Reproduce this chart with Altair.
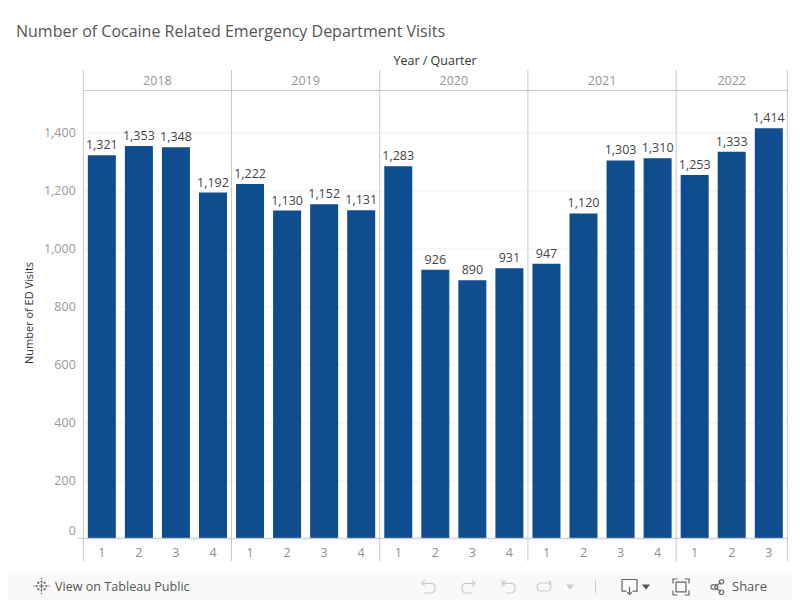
import altair as alt
import pandas as pd

years = [2018]*4 + [2019]*4 + [2020]*4 + [2021]*4 + [2022]*3
quarters = [1,2,3,4, 1,2,3,4, 1,2,3,4, 1,2,3,4, 1,2,3]
visits = [1321,1353,1348,1192, 1222,1130,1152,1131, 1283,926,890,931, 947,1120,1303,1310, 1253,1333,1414]
y_ticks = [0,200,400,600,800,1000,1200,1400]
year_labels = [2018,2019,2020,2021]
last_year_label = [2022]

FONT = "Open Sans"
BAR = "#0F4D8F"
LINE = "#C8C8C8"
W, H = 704, 447.8
LEFT, TOP = 75.3, 82.5
GAP = 4.5

keys = [f"{y}-{q}" for y, q in zip(years, quarters)]
df = pd.DataFrame({"key": keys, "visits": visits})
x_scale = alt.Scale(domain=keys, paddingInner=0.243, paddingOuter=0.1215)
y_scale = alt.Scale(domain=[0, 1544], nice=False, zero=True)
x_axis = alt.Axis(labelExpr="split(datum.label,'-')[1]", labelAngle=0, domain=False, ticks=False,
                  grid=False, labelFont=FONT, labelFontSize=12.5, labelColor="#8F8F8F", labelPadding=8)
y_axis = alt.Axis(values=y_ticks, labelExpr="format(datum.value, ',')", domain=False, ticks=False,
                  grid=True, gridColor="#F0F0F0",
                  labelFont=FONT, labelFontSize=12.5, labelColor="#999999", labelPadding=8,
                  labelFlush=True, labelFlushOffset=-1,
                  titleFont=FONT, titleFontSize=11, titleFontWeight="normal", titleColor="#333333",
                  titleX=-49, titleY=222)

def X(**kw):
    return alt.X("key:N", scale=x_scale, title=None, axis=x_axis, **kw)

def Y():
    return alt.Y("visits:Q", scale=y_scale, title="Number of ED Visits", axis=y_axis)

def vx(px):
    return alt.value(px - 8 - LEFT)

def vy(px):
    return alt.value(px - 8 - TOP)

bars = alt.Chart(df).mark_bar(color=BAR, width=28).encode(x=X(), y=Y())
labels = alt.Chart(df).mark_text(font=FONT, fontSize=12.5, color="#444444", baseline="bottom", dy=-3).encode(
    x=X(), y=Y(), text=alt.Text("visits:Q", format=","))

starts = df[[q == 1 for q in quarters]]
inner = df[[q != 1 for q in quarters]]
seps = alt.Chart(starts).mark_rule(color=LINE, xOffset=-GAP).encode(
    x=X(bandPosition=0), y=vy(70), y2=vy(561))
end_sep = alt.Chart(df.head(1)).mark_rule(color=LINE).encode(x=alt.value(W), y=vy(70), y2=vy(561))
qticks = alt.Chart(inner).mark_rule(color="#EEEEEE", xOffset=-GAP).encode(
    x=X(bandPosition=0), y=vy(538), y2=vy(542))
top_line = alt.Chart(df.head(1)).mark_rule(color=LINE).encode(x=alt.value(0), x2=alt.value(W), y=alt.value(0))
base_line = alt.Chart(df.head(1)).mark_rule(color=LINE).encode(x=alt.value(-5), x2=alt.value(W), y=alt.value(H))

yr = pd.DataFrame({"key": [f"{y}-2" for y in year_labels], "year": year_labels})
yr2 = pd.DataFrame({"key": [f"{y}-2" for y in last_year_label], "year": last_year_label})
ytxt = alt.Chart(yr).mark_text(font=FONT, fontSize=12.5, color="#959595", dx=GAP).encode(
    x=X(bandPosition=1), y=vy(80.5), text="year:N")
ytxt2 = alt.Chart(yr2).mark_text(font=FONT, fontSize=12.5, color="#959595").encode(
    x=X(bandPosition=0.5), y=vy(80.5), text="year:N")

one = pd.DataFrame({"a": [1]})

def txt(s, px, py, size=12, color="#333333", align="center", weight="normal"):
    return alt.Chart(pd.DataFrame({"t": [s]})).mark_text(font=FONT, fontSize=size, color=color, align=align,
                                                        fontWeight=weight).encode(
        x=vx(px), y=vy(py), text="t:N")

def icon(path, px, py, box, color="#777777", filled=False, width=1.2):
    return alt.Chart(one).mark_point(shape=path, size=box*box, filled=filled, opacity=1, strokeWidth=width,
                                     color=color).encode(x=vx(px), y=vy(py))

toolbar = alt.Chart(one).mark_rect(color="#F9F9F9").encode(x=vx(8), x2=vx(800), y=vy(573), y2=vy(600))

logo = ("M-.12 -.55H.12M0 -.7V-.4M-.12 .55H.12M0 .4V.7M-.75 0H-.45M-.6 -.13V.13M.45 0H.75M.6 -.13V.13"
        "M-.3 0H.3M0 -.3V.3M-.55 -.4H-.25M-.4 -.52V-.28M.25 -.4H.55M.4 -.52V-.28"
        "M-.55 .4H-.25M-.4 .28V.52M.25 .4H.55M.4 .28V.52M0 -1V-.85M0 .85V1M-1 0H-.85M.85 0H1")
undo = "M-.85 -.45H.3C1 -.45 1 .75 .3 .75H-.5M-.85 -.45L-.45 -.85M-.85 -.45L-.45 -.1"
redo = "M.85 -.45H-.3C-1 -.45 -1 .75 -.3 .75H.5M.85 -.45L.45 -.85M.85 -.45L.45 -.1"
revert = "M-.75 -.9V-.05M-.75 -.45H.3C1 -.45 1 .75 .3 .75H-.4M-.75 -.45L-.35 -.8M-.75 -.45L-.35 -.1"
refresh = "M.9 -.5H-.4C-1 -.5 -1 .5 -.4 .5H.4C1 .5 1 -.5 .6 -.5M.9 -.5L.6 -.8M.9 -.5L.6 -.2"
tri = "M-1 -.6H1L0 .7Z"
download = "M-.4 .55H-1V-1H1V.55H.4M0 -.05V1M-.3 .7L0 1L.3 .7"
full = ("M-1 -.45V-1H-.45M.45 -1H1V-.45M1 .45V1H.45M-.45 1H-1V.45M-.62 -.62H.62V.62H-.62Z")
share = ("M-.35 0L.5 -.6M-.35 0L.5 .6M-.35 -.25A.3 .3 0 1 0 -.35 .25A.3 .3 0 1 0 -.35 -.25Z"
         "M.6 -1A.3 .3 0 1 0 .6 -.4A.3 .3 0 1 0 .6 -1ZM.6 .4A.3 .3 0 1 0 .6 1A.3 .3 0 1 0 .6 .4Z")

chrome = [
    toolbar,
    icon(logo, 41.5, 586, 16, "#666666"),
    txt("View on Tableau Public", 55, 587, 12.6, "#555555", "left"),
    icon(undo, 428.5, 587, 16, "#CCCCCC"),
    icon(redo, 468.5, 587, 16, "#CCCCCC"),
    icon(revert, 508.5, 587, 16, "#CCCCCC"),
    icon(refresh, 544, 587, 16, "#CCCCCC"),
    icon(tri, 570, 587, 8, "#CCCCCC", True),
    alt.Chart(one).mark_rule(color="#CCCCCC").encode(x=vx(595.5), y=vy(580), y2=vy(593)),
    icon(download, 629.5, 587, 15, "#666666"),
    icon(tri, 646, 587, 8, "#555555", True),
    icon(full, 681, 587, 16, "#666666"),
    icon(share, 717, 587, 15, "#666666"),
    txt("Share", 732, 587, 13, "#555555", "left"),
]

chart = alt.layer(
    bars, labels, seps, end_sep, qticks, top_line, base_line, ytxt, ytxt2,
    txt("Year / Quarter", 435, 61, 12.5, "#333333"),
    *chrome,
).properties(
    width=W, height=H,
    title=alt.TitleParams("Number of Cocaine Related Emergency Department Visits", anchor="start", frame="group",
                          font=FONT, fontSize=16, fontWeight="normal", color="#555555", dx=-67.3, offset=15),
    padding={"left": LEFT, "top": TOP, "right": 784 - LEFT - W, "bottom": 592 - TOP - H},
    autosize=alt.AutoSizeParams(type="none"),
).configure_view(stroke=None)

chart.save("out.html", embed_options={"renderer": "svg", "actions": False})
